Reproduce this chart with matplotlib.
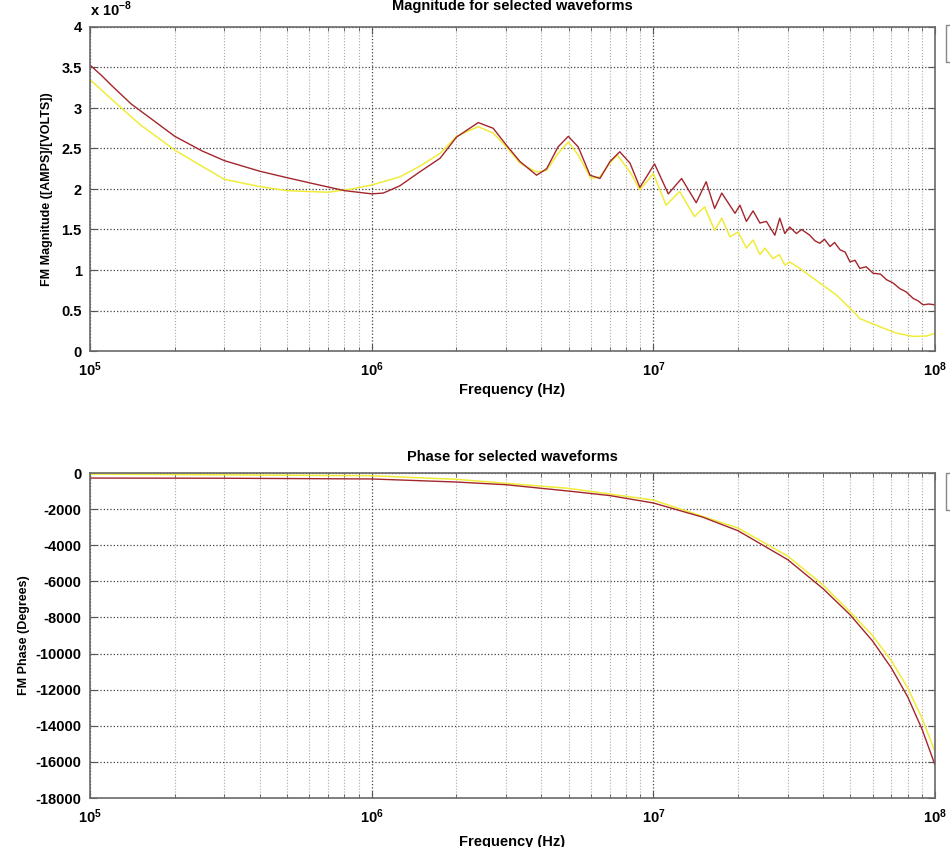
import math
import matplotlib
matplotlib.use('Agg')
import matplotlib.pyplot as plt
from matplotlib.ticker import LogLocator, NullFormatter, FuncFormatter, MultipleLocator
from matplotlib.patches import Rectangle

plt.rcParams['font.family'] = ['Liberation Sans', 'DejaVu Sans']
plt.rcParams['font.weight'] = 'bold'
plt.rcParams['axes.labelweight'] = 'bold'
plt.rcParams['axes.titleweight'] = 'bold'
plt.rcParams['axes.unicode_minus'] = False
plt.rcParams['mathtext.fontset'] = 'custom'
plt.rcParams['mathtext.rm'] = 'Liberation Sans:bold'
plt.rcParams['mathtext.bf'] = 'Liberation Sans:bold'

# magnitude in units of 1e-8 [AMPS]/[VOLTS]
mag_freq_red = [1e5, 1.1e5, 1.2e5, 1.4e5, 1.63e5, 2.0e5, 2.5e5, 3.0e5, 4.0e5, 5.0e5,
                6.5e5, 8.0e5, 1.0e6, 1.1e6,
                1.26e6, 1.48e6, 1.75e6, 2.0e6, 2.39e6, 2.7e6, 3.01e6, 3.36e6, 3.85e6, 4.18e6,
                4.59e6, 4.99e6, 5.41e6, 5.96e6, 6.46e6, 7.02e6, 7.6e6, 8.26e6, 8.96e6, 1.01e7,
                1.13e7, 1.26e7, 1.42e7, 1.54e7, 1.65e7, 1.75e7, 1.95e7, 2.03e7, 2.14e7, 2.26e7,
                2.39e7, 2.52e7, 2.7e7, 2.81e7, 2.93e7, 3.05e7, 3.22e7, 3.36e7, 3.59e7, 3.75e7,
                3.9e7, 4.05e7, 4.24e7, 4.4e7, 4.6e7, 4.8e7, 4.99e7, 5.2e7, 5.41e7, 5.7e7,
                6.03e7, 6.4e7, 6.73e7, 7.1e7, 7.5e7, 7.9e7, 8.36e7, 8.7e7, 9.07e7, 9.5e7, 1e8]
mag_red = [3.53, 3.40, 3.27, 3.05, 2.88, 2.65, 2.47, 2.35, 2.22, 2.14,
           2.05, 1.98, 1.94, 1.95,
           2.04, 2.21, 2.38, 2.64, 2.82, 2.75, 2.54, 2.34, 2.17, 2.25,
           2.52, 2.65, 2.52, 2.17, 2.13, 2.34, 2.46, 2.32, 2.02, 2.31,
           1.94, 2.13, 1.83, 2.09, 1.76, 1.95, 1.70, 1.80, 1.60, 1.73,
           1.58, 1.60, 1.43, 1.64, 1.45, 1.53, 1.45, 1.50, 1.43, 1.36,
           1.33, 1.38, 1.29, 1.34, 1.25, 1.22, 1.10, 1.12, 1.02, 1.04,
           0.96, 0.95, 0.88, 0.84, 0.77, 0.73, 0.65, 0.62, 0.57, 0.58, 0.57]

mag_freq_yel = [1e5, 1.1e5, 1.2e5, 1.5e5, 2.0e5, 2.5e5, 3.0e5, 4.0e5, 5.0e5, 7.0e5,
                8.5e5, 1.0e6, 1.15e6,
                1.26e6, 1.48e6, 1.75e6, 2.0e6, 2.39e6, 2.7e6, 3.01e6, 3.36e6, 3.85e6, 4.18e6,
                4.59e6, 4.99e6, 5.41e6, 6.0e6, 6.46e6, 7.02e6, 7.45e6, 8.26e6, 8.96e6, 1.0e7,
                1.11e7, 1.24e7, 1.40e7, 1.52e7, 1.65e7, 1.75e7, 1.87e7, 2.0e7, 2.14e7, 2.26e7,
                2.39e7, 2.49e7, 2.66e7, 2.8e7, 2.93e7, 3.05e7, 3.31e7, 3.9e7, 4.47e7, 5.12e7,
                5.41e7, 6.37e7, 7.3e7, 8.36e7, 9.33e7, 1e8]
mag_yel = [3.35, 3.22, 3.10, 2.80, 2.48, 2.28, 2.12, 2.03, 1.98, 1.96,
           2.00, 2.05, 2.11,
           2.15, 2.28, 2.44, 2.65, 2.77, 2.69, 2.52, 2.32, 2.21, 2.23,
           2.44, 2.58, 2.42, 2.13, 2.15, 2.32, 2.42, 2.21, 1.99, 2.19,
           1.80, 1.97, 1.66, 1.78, 1.49, 1.64, 1.41, 1.47, 1.27, 1.37,
           1.19, 1.27, 1.14, 1.19, 1.06, 1.10, 1.02, 0.84, 0.69, 0.49,
           0.40, 0.30, 0.22, 0.18, 0.185, 0.22]

# phase in degrees
ph_freq_red = [1e5, 3e5, 1e6, 2e6, 3e6, 5e6, 7e6, 1e7, 1.5e7, 2e7, 3e7, 4e7, 5e7, 6e7, 7e7, 8e7, 9e7, 1e8]
ph_red = [-280, -290, -330, -500, -650, -1000, -1250, -1660, -2450, -3200, -4800, -6400,
          -7860, -9300, -10800, -12400, -14200, -16170]
ph_freq_yel = [1e5, 1e6, 2e6, 5e6, 1e7, 2e7, 3e7, 4e7, 5e7, 6e7, 7e7, 8e7, 9e7, 1e8]
ph_yel = [-60, -150, -350, -850, -1500, -3050, -4600, -6200, -7700, -9000, -10400, -11900,
          -13600, -15430]

RED = '#a3262c'
YEL = '#f0ec3a'

fig = plt.figure(figsize=(9.5, 8.47), dpi=100)
W, H = 950.0, 847.0
ax1 = fig.add_axes([90 / W, 1 - 351 / H, 845 / W, 324 / H])
ax2 = fig.add_axes([90 / W, 1 - 798 / H, 845 / W, 325 / H])


def dec_fmt(v, pos):
    return r'$\mathbf{10^{%d}}$' % int(round(math.log10(v)))


for ax in (ax1, ax2):
    ax.set_xscale('log')
    ax.set_xlim(1e5, 1e8)
    ax.xaxis.set_major_locator(LogLocator(base=10, numticks=10))
    ax.xaxis.set_minor_locator(LogLocator(base=10, subs=range(2, 10), numticks=20))
    ax.xaxis.set_minor_formatter(NullFormatter())
    ax.xaxis.set_major_formatter(FuncFormatter(dec_fmt))
    ax.tick_params(which='both', direction='in', top=True, right=True, labelsize=10.5,
                   color='#555555')
    ax.tick_params(which='major', length=5)
    ax.tick_params(which='minor', length=3)
    ax.tick_params(axis='x', which='major', pad=7)
    ax.tick_params(axis='y', pad=6)
    ax.grid(True, which='major', linestyle=':', color='#444444', linewidth=0.9)
    ax.grid(True, which='minor', axis='x', linestyle=':', color='#aaaaaa', linewidth=0.8)
    for s in ax.spines.values():
        s.set_color('#6a6a6a')
        s.set_linewidth(1.2)

ax1.set_xlabel('Frequency (Hz)', fontsize=10.5, labelpad=3)
ax2.set_xlabel('Frequency (Hz)', fontsize=10.5, labelpad=6)

ax1.plot(mag_freq_yel, mag_yel, color=YEL, lw=1.1)
ax1.plot(mag_freq_red, mag_red, color=RED, lw=1.0)
ax1.set_ylim(0, 4)
ax1.yaxis.set_major_locator(MultipleLocator(0.5))
ax1.yaxis.set_major_formatter(FuncFormatter(lambda v, p: '%g' % v))
ax1.set_ylabel('FM Magnitude ([AMPS]/[VOLTS])', fontsize=9, labelpad=6)
ax1.set_title('Magnitude for selected waveforms', fontsize=10.5, pad=12)
fig.text(90 / W, 1 - 16 / H, r'x 10$^{-8}$', fontsize=10.5, ha='left', va='baseline')

ax2.plot(ph_freq_yel, ph_yel, color=YEL, lw=1.1)
ax2.plot(ph_freq_red, ph_red, color=RED, lw=1.0)
ax2.set_ylim(-18000, 0)
ax2.yaxis.set_major_locator(MultipleLocator(2000))
ax2.set_ylabel('FM Phase (Degrees)', fontsize=9, labelpad=4)
ax2.set_title('Phase for selected waveforms', fontsize=10.5, pad=9)

# partially visible legend boxes at the right edge
for top, bot in ((25, 62), (473, 510)):
    fig.add_artist(Rectangle((946 / W, 1 - bot / H), 0.05, (bot - top) / H,
                             transform=fig.transFigure, fill=False, ec='#888888', lw=1.0))

fig.savefig('out.png', dpi=100)
